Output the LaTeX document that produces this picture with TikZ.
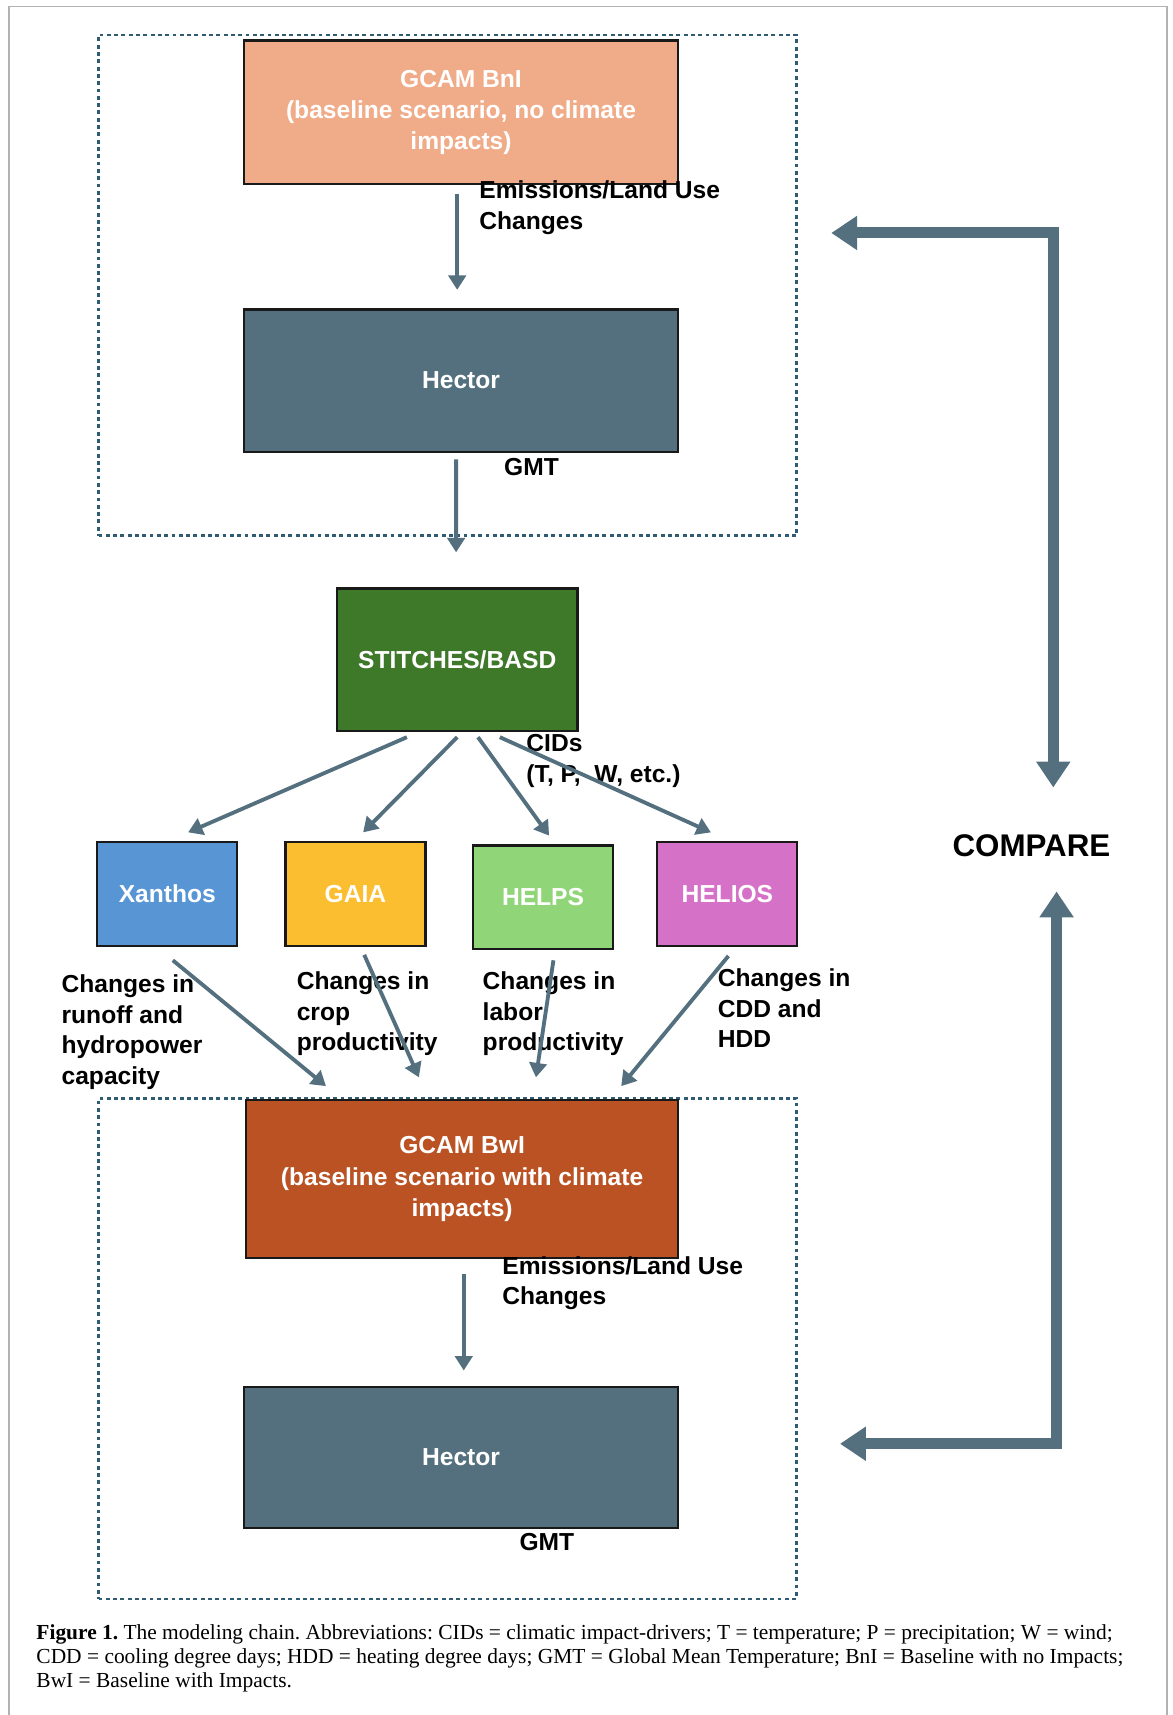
\documentclass[tikz,border=0pt]{standalone}
\usepackage{fontspec}
\setmainfont{Liberation Serif}
\setsansfont{Liberation Sans}
\usetikzlibrary{calc,arrows.meta}

\definecolor{slate}{HTML}{54707F}
\definecolor{framecol}{HTML}{2F5B73}
\definecolor{bnifill}{HTML}{F0AB88}
\definecolor{stitchfill}{HTML}{3E7829}
\definecolor{xanthosfill}{HTML}{5895D5}
\definecolor{gaiafill}{HTML}{FBBE30}
\definecolor{helpsfill}{HTML}{90D678}
\definecolor{heliosfill}{HTML}{D572C8}
\definecolor{bwifill}{HTML}{BA5223}

\newcommand{\labelfont}{\sffamily\bfseries\fontsize{12.8}{15.9}\selectfont}
\newcommand{\widebox}{7.94cm}

\tikzset{
    model/.style={draw=black!90, line width=1.1pt, inner sep=0pt, outer sep=0pt,
        text=white, align=center, font=\sffamily\bfseries\fontsize{12.8}{16.2}\selectfont},
    smallmodel/.style={model, minimum width=2.56cm, minimum height=1.9cm},
    lbl/.style={inner sep=0pt, anchor=west, align=left, font=\labelfont},
    frame/.style={draw=framecol, line width=1.5pt, dash pattern=on 2pt off 1.8pt,
        inner sep=0pt, minimum width=12.76cm, minimum height=9.16cm},
    flow/.style={->, slate, line width=2pt},
    cmp/.style={slate, line width=5.7pt,
        {Triangle[width=17pt,length=13.5pt]}-{Triangle[width=17pt,length=13.5pt]}},
}

\begin{document}
\begin{tikzpicture}[x=0.02cm, y=-0.02cm, >={Triangle[width=9pt,length=7.5pt]}]

\useasboundingbox (0,0) rectangle (1072,1568);

% page frame
\draw[gray!60, line width=0.9pt] (8,1580) -- (8,6) -- (1067,6) -- (1067,1580);

% dashed groups
\node[frame] (topframe) at (409,261) {};
\node[frame] (botframe) at (409,1233) {};

% models
\node[model, fill=bnifill, minimum width=\widebox, minimum height=2.62cm] (bni)
    at (421.5,102.5) {GCAM BnI\\(baseline scenario, no climate\\impacts)};
\node[model, fill=slate, minimum width=\widebox, minimum height=2.6cm] (hectorA)
    at (421.5,348) {Hector};
\node[model, fill=stitchfill, minimum width=4.4cm, minimum height=2.6cm] (stitch)
    at (418,603) {STITCHES/BASD};
\foreach \name/\x/\y/\col/\txt in {xanthos/153/817.5/xanthosfill/Xanthos,
        gaia/325/817.5/gaiafill/GAIA, helps/496.5/820.5/helpsfill/HELPS,
        helios/665/817.5/heliosfill/HELIOS}
    \node[smallmodel, fill=\col] (\name) at (\x,\y) {\txt};
\node[model, fill=bwifill, minimum width=7.9cm, minimum height=2.88cm] (bwi)
    at (422.5,1078) {GCAM BwI\\(baseline scenario with climate\\impacts)};
\node[model, fill=slate, minimum width=\widebox, minimum height=2.58cm] (hectorB)
    at (421.5,1332.5) {Hector};

% labels
\node[lbl] (emisA) at (438,190) {Emissions/Land Use\\Changes};
\node[lbl, anchor=center] (gmtA) at (486,427) {GMT};
\node[lbl] (cids) at (481,695.5) {CIDs\\(T, P,\ \ W, etc.)};
\node[lbl] (runoff) at (56,943.5) {Changes in\\runoff and\\hydropower\\capacity};
\node[lbl] (crop) at (271,927) {Changes in\\crop\\productivity};
\node[lbl] (labor) at (441,927) {Changes in\\labor\\productivity};
\node[lbl] (cdd) at (656,922) {Changes in\\CDD and\\HDD};
\node[lbl] (emisB) at (459,1173) {Emissions/Land Use\\Changes};
\node[lbl, anchor=center] (gmtB) at (500,1410) {GMT};
\node[inner sep=0pt, font=\sffamily\bfseries\fontsize{16.3}{20}\selectfont] (compare)
    at (943,773) {COMPARE};

% chain
\draw[flow, shorten <=0.18cm, shorten >=0.36cm]
    ([xshift=-0.07cm]bni.south) -- ([xshift=-0.07cm]hectorA.north);
\draw[flow, shorten <=0.14cm, shorten >=0.66cm]
    ([xshift=-0.09cm]hectorA.south) -- ([xshift=-0.02cm]stitch.north);
\foreach \tgt/\sx/\tx in {xanthos/-0.92/0.38, gaia/0/0.14, helps/0.38/0.11, helios/0.78/-0.3}
    \draw[flow] ([xshift=\sx cm, yshift=-0.12cm]stitch.south)
        -- ([xshift=\tx cm, yshift=0.18cm]\tgt.north);
\foreach \src/\sx/\sy/\tx/\ty in {xanthos/0.1/0.26/-2.49/0.26, gaia/0.16/0.16/-0.79/0.42,
        helps/0.19/0.2/1.35/0.42, helios/0.02/0.18/2.91/0.26}
    \draw[flow] ([xshift=\sx cm, yshift=-\sy cm]\src.south)
        -- ([xshift=\tx cm, yshift=\ty cm]bwi.north);
\draw[flow, shorten <=0.3cm, shorten >=0.3cm]
    ([xshift=0.03cm]bwi.south) -- ([xshift=0.05cm]hectorB.north);

% compare coordinates
\coordinate (topEnd) at (760,213);
\coordinate (topBend) at (963,213);
\coordinate (topTip) at (963,720);
\coordinate (botTip) at (966,815);
\coordinate (botBend) at (966,1320);
\coordinate (botEnd) at (768,1320);

\draw[cmp] (topEnd) -- (topBend) -- (topTip);
\draw[cmp] (botTip) -- (botBend) -- (botEnd);

% caption
\node[inner sep=0pt, anchor=west, align=left,
    font=\frenchspacing\fontsize{11.15}{12.4}\selectfont] (caption)
    at (33,1516) {\textbf{Figure 1.} The modeling chain. Abbreviations: CIDs = climatic
    impact-drivers; T = temperature; P = precipitation; W = wind;\\
    CDD = cooling degree days; HDD = heating degree days; GMT = Global Mean Temperature;
    BnI = Baseline with no Impacts;\\
    BwI = Baseline with Impacts.};

\end{tikzpicture}
\end{document}
